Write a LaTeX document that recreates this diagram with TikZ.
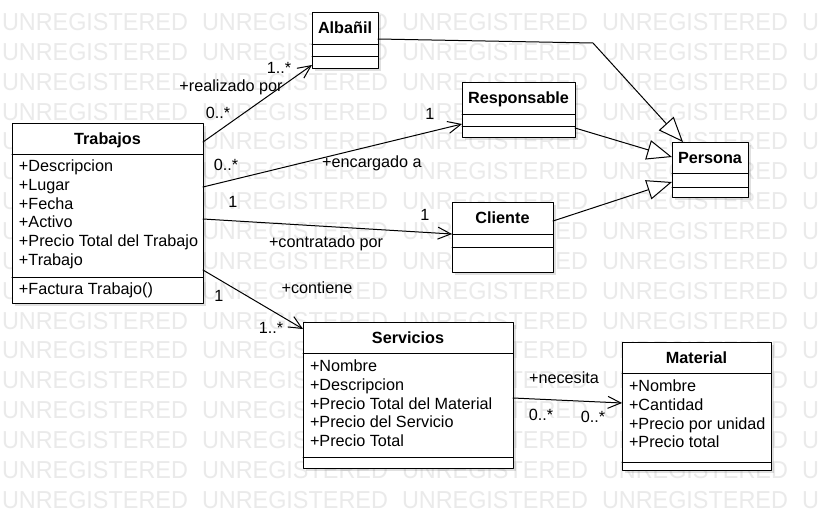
\documentclass[tikz,border=0pt]{standalone}
\usepackage{fontspec}
\setmainfont{Liberation Sans}
\usetikzlibrary{calc, arrows.meta, shadows}

\definecolor{wmgray}{RGB}{234,234,234}

\begin{document}
\begin{tikzpicture}[x=1pt, y=-1pt, line cap=round, line join=round,
    every node/.style={inner sep=0pt, outer sep=0pt},
    txt/.style={font=\fontsize{16.2pt}{19pt}\selectfont, text height=11.5pt, text depth=0pt},
    classbox/.style={draw, line width=1pt, fill=white, anchor=north west,
        drop shadow={shadow xshift=3pt, shadow yshift=-3pt, opacity=0.12, fill=black}},
    title/.style={txt, font=\fontsize{16.2pt}{19pt}\selectfont\bfseries},
    attr/.style={txt, anchor=west},
    lbl/.style={txt},
    watermark/.style={anchor=base west, text=wmgray, font=\fontsize{24.5pt}{25pt}\selectfont},
    assoc/.style={line width=1pt, -{Straight Barb[length=13pt, width=12pt]}},
    gen/.style={line width=1pt, -{Triangle[length=25pt, width=20pt, fill=white]}}]

    \def\lh{18.7} % line height of the attribute lists

\fill[white] (0,0) rectangle (820,520);
\useasboundingbox (0,0) rectangle (820,520);

%%% watermark rows in the background
\begin{scope}
\clip (0,0) rectangle (820,520);
\foreach \r in {0,...,16} {
  \foreach \c in {0,...,4} {
    \node[watermark] (wm-\r-\c) at ({2+200*\c},{30.5+29.85*\r}) {\scalebox{0.955}[1]{UNREGISTERED}};
  }
}
\end{scope}

% classes: name / x / y / width / height / first rule / second rule / title
\foreach \n/\x/\y/\w/\h/\sa/\sb/\t in {
    alba/312/12/66/56/32/44/Albañil,
    resp/462/82/113/55/32/44/Responsable,
    pers/672/142/76/55/31/45/Persona,
    clie/452/202/101/70/32/45/Cliente,
    trab/12/123/191/180/31/154/Trabajos,
    serv/303/322/210/146/31/135/Servicios,
    mate/622/342/149/128/31/120/Material} {
  \node[classbox, minimum width=\w pt, minimum height=\h pt] (\n) at (\x,\y) {};
  \draw[line width=1pt] ([yshift=-\sa pt]\n.north west) -- ([yshift=-\sa pt]\n.north east);
  \draw[line width=1pt] ([yshift=-\sb pt]\n.north west) -- ([yshift=-\sb pt]\n.north east);
  \node[title] (\n-t) at ($(\n.north)+(0,15.5)$) {\t};
}

% attributes and methods
\foreach \a [count=\i] in {+Descripcion, +Lugar, +Fecha, +Activo, +Precio Total del Trabajo, +Trabajo}
  \node[attr] (trab-a\i) at ($(trab.north west)+(7,{43+\lh*(\i-1)})$) {\a};
\node[attr] (trab-m1) at ($(trab.north west)+(7,166)$) {+Factura Trabajo()};

\foreach \a [count=\i] in {+Nombre, +Descripcion, +Precio Total del Material, +Precio del Servicio, +Precio Total}
  \node[attr] (serv-a\i) at ($(serv.north west)+(7,{44+\lh*(\i-1)})$) {\a};

\foreach \a [count=\i] in {+Nombre, +Cantidad, +Precio por unidad, +Precio total}
  \node[attr] (mate-a\i) at ($(mate.north west)+(7,{44+\lh*(\i-1)})$) {\a};

% associations
\draw[assoc] ([yshift=-19pt]trab.north east) -- ([yshift=3pt]alba.south west);
\draw[assoc] ([yshift=-64pt]trab.north east) -- ([yshift=13pt]resp.south west);
\draw[assoc] ([yshift=-96pt]trab.north east) -- ([yshift=-32pt]clie.north west);
\draw[assoc] ([yshift=33pt]trab.south east) -- ([yshift=-7pt]serv.north west);
\draw[assoc] ([yshift=-76pt]serv.north east) -- ([yshift=-61pt]mate.north west);

% role names and multiplicities
\node[lbl] (alba-m) at (279,68) {1..*};
\node[lbl] (alba-r) at (231,86) {+realizado por};
\node[lbl] (alba-s) at (218,113) {0..*};
\node[lbl] (resp-s) at (226,165) {0..*};
\node[lbl] (resp-r) at (372,162) {+encargado a};
\node[lbl] (resp-m) at (430,114) {1};
\node[lbl] (clie-s) at (233,202) {1};
\node[lbl] (clie-r) at (326,242) {+contratado por};
\node[lbl] (clie-m) at (425,215) {1};
\node[lbl] (serv-s) at (219,296) {1};
\node[lbl] (serv-r) at (317,288) {+contiene};
\node[lbl] (serv-m) at (271,328) {1..*};
\node[lbl] (mate-r) at (564,378) {+necesita};
\node[lbl] (mate-s) at (541,415) {0..*};
\node[lbl] (mate-m) at (593,417) {0..*};

% generalisations to Persona
\coordinate (bend) at (593,43);
\draw[gen] ([yshift=-27pt]alba.north east) -- (bend) -- ([xshift=11pt]pers.north west);
\draw[gen] ([yshift=9pt]resp.south east) -- ([yshift=-15pt]pers.north west);
\draw[gen] ([yshift=-19pt]clie.north east) -- ([yshift=-40pt]pers.north west);

\end{tikzpicture}
\end{document}
